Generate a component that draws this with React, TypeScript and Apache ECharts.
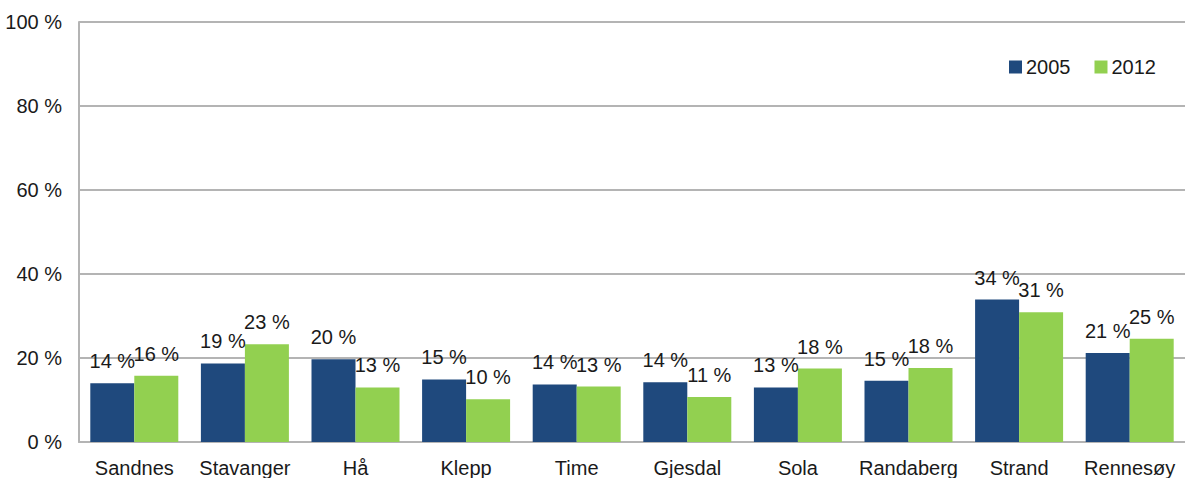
import React, { useEffect, useRef } from "react";
import * as echarts from "echarts";

const categories = ["Sandnes", "Stavanger", "Hå", "Klepp", "Time", "Gjesdal", "Sola", "Randaberg", "Strand", "Rennesøy"];
const values2005 = [14.0, 18.7, 19.7, 14.9, 13.7, 14.2, 13.0, 14.6, 33.9, 21.2];
const values2012 = [15.8, 23.3, 13.0, 10.2, 13.2, 10.7, 17.5, 17.6, 30.9, 24.6];
const seriesNames = ["2005", "2012"];

const FONT = "'Liberation Sans', Arial, sans-serif";
const TEXT = "#1a1a1a";
const FS = 20;

export default function App() {
  const ref = useRef<HTMLDivElement>(null);
  useEffect(() => {
    if (!ref.current) return;
    const chart = echarts.init(ref.current, null, { renderer: "svg" });
    const label = {
      show: true,
      position: "top" as const,
      distance: 12,
      fontSize: FS,
      fontFamily: FONT,
      color: TEXT,
      formatter: (p: any) => Math.round(p.value) + " %",
    };
    chart.setOption({
      animation: false,
      backgroundColor: "#ffffff",
      textStyle: { fontFamily: FONT },
      grid: { left: 79, top: 22, width: 1110, height: 420, containLabel: false },
      legend: {
        data: seriesNames,
        left: 1004,
        top: 52,
        itemWidth: 13,
        itemHeight: 13,
        itemGap: 24,
        icon: "rect",
        textStyle: { fontSize: FS, fontFamily: FONT, color: TEXT, padding: [0, 0, 0, -1] },
      },
      xAxis: {
        type: "category",
        data: categories,
        axisLine: { lineStyle: { color: "#b4b4b4", width: 2 } },
        axisTick: { show: false },
        axisLabel: { fontSize: FS, fontFamily: FONT, color: TEXT, margin: 16, interval: 0 },
      },
      yAxis: {
        type: "value",
        min: 0,
        max: 100,
        interval: 20,
        axisLine: { show: true, lineStyle: { color: "#b4b4b4", width: 2 } },
        axisTick: { show: false },
        splitLine: { lineStyle: { color: "#b4b4b4", width: 2 } },
        axisLabel: { fontSize: FS, fontFamily: FONT, color: TEXT, margin: 17, formatter: (v: number) => v + " %" },
      },
      series: [
        { name: seriesNames[0], type: "bar", data: values2005, barWidth: 44, barGap: "0%", itemStyle: { color: "#1f497d" }, label },
        { name: seriesNames[1], type: "bar", data: values2012, barWidth: 44, barGap: "0%", itemStyle: { color: "#92d050" }, label },
      ],
    });
    return () => chart.dispose();
  }, []);
  return <div ref={ref} style={{ position: "absolute", left: 0, top: 0, width: 1185, height: 478 }} />;
}
